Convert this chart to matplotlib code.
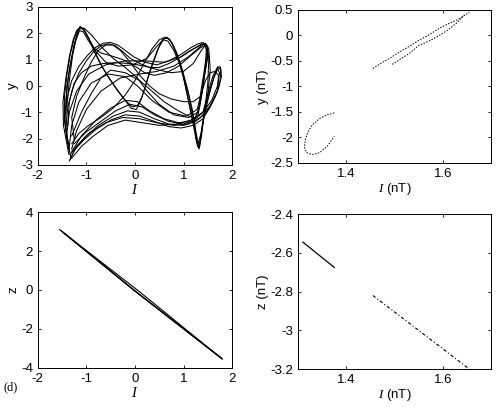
import numpy as np
import matplotlib
matplotlib.use("Agg")
import matplotlib.pyplot as plt

plt.rcParams['font.family'] = ['Liberation Sans', 'DejaVu Sans']
plt.rcParams['mathtext.fontset'] = 'custom'
plt.rcParams['mathtext.it'] = 'Liberation Serif:italic'
plt.rcParams['mathtext.rm'] = 'Liberation Sans'

# ---- top left: attractor I-y, hand traced orbits (I, y) ----
orbit_a = [(-1.32, -2.7), (-1.4, -2.0), (-1.45, -1.2), (-1.45, -0.4), (-1.4, 0.4), (-1.33, 1.2), (-1.25, 1.8),
           (-1.17, 2.15), (-1.1, 2.2), (-1.02, 2.05), (-0.92, 1.7), (-0.8, 1.2), (-0.65, 0.65), (-0.5, 0.2),
           (-0.35, -0.2), (-0.2, -0.55), (-0.05, -0.8), (0.05, -0.75), (0.15, -0.4), (0.25, 0.2), (0.38, 0.9),
           (0.5, 1.5), (0.6, 1.8), (0.7, 1.8), (0.8, 1.5), (0.92, 0.9), (1.03, 0.1), (1.13, -0.8), (1.22, -1.6),
           (1.29, -2.3), (1.33, -2.3), (1.38, -1.6), (1.45, -0.8), (1.55, -0.1), (1.65, 0.45), (1.72, 0.7),
           (1.77, 0.6), (1.75, 0.2), (1.68, -0.3), (1.55, -0.8), (1.4, -1.25), (1.2, -1.5), (0.95, -1.6),
           (0.7, -1.55), (0.4, -1.35), (0.1, -1.15), (-0.2, -1.1), (-0.5, -1.3), (-0.8, -1.65), (-1.05, -2.05),
           (-1.25, -2.45), (-1.33, -2.8)]
orbit_b = [(-1.35, -2.4), (-1.42, -1.6), (-1.38, -0.8), (-1.28, -0.1), (-1.15, 0.5), (-1.0, 0.95), (-0.85, 1.3),
           (-0.7, 1.52), (-0.55, 1.6), (-0.4, 1.52), (-0.25, 1.3), (-0.1, 1.05), (0.1, 0.85), (0.3, 0.7),
           (0.5, 0.7), (0.7, 0.85), (0.9, 1.05), (1.1, 1.3), (1.3, 1.5), (1.42, 1.6), (1.5, 1.5), (1.5, 1.1),
           (1.43, 0.4), (1.37, -0.4), (1.3, -1.1), (1.15, -1.35), (0.9, -1.4), (0.6, -1.25), (0.3, -0.95),
           (0.05, -0.6), (-0.2, -0.55), (-0.5, -0.85), (-0.8, -1.3), (-1.1, -1.9), (-1.3, -2.5)]
orbit_c = [(-1.38, -1.5), (-1.35, -0.6), (-1.25, 0.1), (-1.1, 0.5), (-0.9, 0.75), (-0.65, 0.85), (-0.4, 0.88),
           (-0.1, 0.85), (0.2, 0.75), (0.5, 0.6), (0.75, 0.5), (1.0, 0.55), (1.2, 0.85), (1.35, 1.3),
           (1.45, 1.55), (1.48, 1.3), (1.42, 0.5), (1.35, -0.3), (1.3, -1.0), (1.1, -1.2), (0.8, -1.1),
           (0.5, -0.7), (0.25, -0.2), (0.05, 0.3), (-0.2, 0.7), (-0.45, 1.05), (-0.7, 1.5), (-0.9, 1.95),
           (-1.05, 2.2), (-1.15, 2.15), (-1.25, 1.6), (-1.35, 0.6), (-1.42, -0.5), (-1.42, -1.6), (-1.35, -2.5)]
orbit_d = [(-1.3, -2.2), (-1.15, -1.8), (-0.95, -1.5), (-0.7, -1.2), (-0.45, -0.85), (-0.2, -0.35), (0.0, 0.2),
           (0.2, 0.9), (0.35, 1.4), (0.5, 1.75), (0.62, 1.85), (0.72, 1.75), (0.85, 1.3), (0.98, 0.6),
           (1.1, -0.3), (1.2, -1.2), (1.27, -2.0), (1.31, -2.35), (1.35, -2.0), (1.42, -1.2), (1.52, -0.4),
           (1.62, 0.3), (1.7, 0.65), (1.74, 0.5), (1.7, 0.0), (1.58, -0.55), (1.4, -1.0), (1.15, -1.3),
           (0.85, -1.45), (0.5, -1.5), (0.15, -1.4), (-0.2, -1.3), (-0.55, -1.5), (-0.85, -1.9), (-1.1, -2.3),
           (-1.3, -2.75)]
orbit_e = [(-1.4, -0.8), (-1.35, 0.2), (-1.28, 1.2), (-1.2, 1.9), (-1.13, 2.25), (-1.05, 2.15), (-0.95, 1.8),
           (-0.8, 1.3), (-0.6, 0.9), (-0.35, 0.75), (-0.05, 0.8), (0.25, 1.05), (0.45, 1.5), (0.58, 1.75),
           (0.68, 1.7), (0.8, 1.35), (0.95, 0.7), (1.08, -0.1), (1.18, -0.9), (1.26, -1.8), (1.3, -2.2),
           (1.36, -1.8), (1.44, -0.9), (1.5, 0.1), (1.52, 1.0), (1.48, 1.55), (1.38, 1.6), (1.2, 1.4),
           (0.95, 1.1), (0.6, 0.9), (0.2, 0.95), (-0.2, 0.95), (-0.6, 0.8), (-0.95, 0.45), (-1.2, -0.2),
           (-1.35, -1.0), (-1.4, -1.8)]
orbit_f = [(-1.25, -2.0), (-1.3, -1.2), (-1.2, -0.4), (-1.05, 0.3), (-0.9, 0.9), (-0.75, 1.35), (-0.6, 1.55),
           (-0.45, 1.55), (-0.3, 1.35), (-0.1, 0.9), (0.1, 0.4), (0.3, 0.0), (0.5, -0.3), (0.75, -0.5),
           (1.0, -0.6), (1.2, -0.6), (1.35, -0.4), (1.45, 0.2), (1.55, 0.5), (1.65, 0.55), (1.72, 0.4),
           (1.7, -0.2), (1.55, -0.75), (1.35, -1.2), (1.1, -1.45), (0.8, -1.5), (0.45, -1.4), (0.1, -1.25),
           (-0.25, -1.2), (-0.6, -1.4), (-0.95, -1.8), (-1.2, -2.3), (-1.35, -2.85)]
orbit_g = [(-1.36, -2.6), (-1.47, -1.5), (-1.48, -0.6), (-1.42, 0.3), (-1.35, 1.1), (-1.27, 1.75), (-1.2, 2.1),
           (-1.12, 2.25), (-1.05, 2.12), (-0.95, 1.8), (-0.85, 1.35), (-0.7, 0.8), (-0.55, 0.35), (-0.38, -0.1),
           (-0.22, -0.5), (-0.08, -0.85), (0.03, -0.9), (0.12, -0.55), (0.22, 0.0), (0.33, 0.7), (0.46, 1.35),
           (0.57, 1.75), (0.66, 1.85), (0.76, 1.65), (0.88, 1.1), (1.0, 0.3), (1.1, -0.55), (1.2, -1.45),
           (1.27, -2.15), (1.32, -2.4), (1.37, -1.9), (1.43, -1.0), (1.5, -0.3), (1.6, 0.35), (1.7, 0.72),
           (1.76, 0.72), (1.78, 0.35), (1.72, -0.1), (1.6, -0.6), (1.45, -1.05), (1.25, -1.35), (1.0, -1.5),
           (0.7, -1.45), (0.4, -1.25), (0.1, -1.0), (-0.15, -0.95), (-0.45, -1.15), (-0.75, -1.5), (-1.0, -1.9),
           (-1.2, -2.3), (-1.33, -2.6)]
orbit_h = [(-1.38, -2.2), (-1.45, -1.3), (-1.4, -0.5), (-1.3, 0.2), (-1.15, 0.75), (-0.98, 1.15), (-0.82, 1.45),
           (-0.65, 1.62), (-0.5, 1.65), (-0.35, 1.55), (-0.2, 1.35), (-0.02, 1.1), (0.2, 0.9), (0.45, 0.8),
           (0.7, 0.95), (0.95, 1.2), (1.15, 1.45), (1.3, 1.6), (1.4, 1.65), (1.47, 1.5), (1.46, 0.9), (1.4, 0.0),
           (1.33, -0.8), (1.22, -1.3), (1.0, -1.45), (0.7, -1.35), (0.4, -1.1), (0.15, -0.8), (-0.1, -0.7),
           (-0.4, -0.95), (-0.7, -1.35), (-1.0, -1.75), (-1.25, -2.2)]
orbit_i = [(-1.3, -1.9), (-1.1, -1.0), (-0.9, -0.3), (-0.7, 0.3), (-0.5, 0.6), (-0.2, 0.5), (0.1, 0.2),
           (0.35, -0.2), (0.6, -0.6), (0.85, -0.9), (1.05, -1.1), (1.25, -1.25), (1.4, -1.0), (1.5, -0.3),
           (1.55, 0.6), (1.52, 1.4), (1.45, 1.62), (1.35, 1.5), (1.1, 1.1), (0.8, 0.75), (0.45, 0.55),
           (0.1, 0.45), (-0.3, 0.3), (-0.7, -0.2), (-1.0, -0.9), (-1.2, -1.7), (-1.3, -2.4)]
orbit_j = [(-1.42, -1.0), (-1.4, 0.0), (-1.32, 0.9), (-1.22, 1.7), (-1.14, 2.1), (-1.06, 2.05), (-0.97, 1.75),
           (-0.85, 1.45), (-0.7, 1.25), (-0.5, 1.15), (-0.25, 1.0), (0.0, 0.75), (0.2, 0.5), (0.4, 0.4),
           (0.65, 0.5), (0.9, 0.75), (1.15, 1.15), (1.35, 1.45), (1.45, 1.55), (1.5, 1.25), (1.45, 0.6),
           (1.38, -0.2), (1.28, -0.9), (1.05, -1.15), (0.7, -1.0), (0.35, -0.55), (0.05, 0.0), (-0.2, 0.35),
           (-0.55, 0.45), (-0.9, 0.1), (-1.15, -0.6), (-1.3, -1.5), (-1.35, -2.3)]
orbits = [orbit_a, orbit_b, orbit_c, orbit_d, orbit_e, orbit_f, orbit_g, orbit_h, orbit_i, orbit_j]

# ---- top right: section I-y (nT) ----
sec_up_I = [1.455, 1.47, 1.49, 1.51, 1.53, 1.55, 1.57, 1.59, 1.61, 1.63, 1.655]
sec_up_y = [-0.65, -0.56, -0.45, -0.33, -0.22, -0.1, 0.0, 0.12, 0.22, 0.3, 0.45]
sec_lo_I = [1.495, 1.51, 1.53, 1.55, 1.57, 1.59, 1.61, 1.63, 1.645]
sec_lo_y = [-0.57, -0.48, -0.36, -0.2, -0.12, -0.02, 0.1, 0.25, 0.4]
hook_I = [1.375, 1.36, 1.345, 1.33, 1.32, 1.315, 1.313, 1.318, 1.33, 1.345, 1.36, 1.375]
hook_y = [-1.52, -1.56, -1.63, -1.75, -1.9, -2.05, -2.2, -2.3, -2.34, -2.3, -2.18, -1.98]

# ---- bottom left: I-z ----
strand_I = [[-1.55, 0.0, 1.8], [-1.5, 0.05, 1.78], [-1.45, 0.1, 1.75], [-1.52, -0.05, 1.79]]
strand_z = [[3.1, -0.05, -3.55], [3.0, -0.15, -3.5], [2.9, -0.1, -3.45], [3.05, 0.05, -3.52]]

# ---- bottom right: section I-z (nT) ----
zsec1_I = [1.31, 1.33, 1.35, 1.375]
zsec1_z = [-2.545, -2.585, -2.625, -2.675]
zsec2_I = [1.455, 1.5, 1.55, 1.6, 1.655]
zsec2_z = [-2.82, -2.905, -3.0, -3.095, -3.2]

FS = 9.5

fig = plt.figure(figsize=(4.96, 4.07), dpi=100)
ax1 = fig.add_axes([0.076, 0.595, 0.392, 0.388])
ax2 = fig.add_axes([0.601, 0.600, 0.389, 0.376])
ax3 = fig.add_axes([0.076, 0.096, 0.392, 0.383])
ax4 = fig.add_axes([0.601, 0.093, 0.389, 0.381])

for orb in orbits:
    I, y = zip(*orb)
    ax1.plot(I, y, color='black', lw=0.75)
ax1.set_xlim(-2, 2)
ax1.set_ylim(-3, 3)
ax1.set_xticks([-2, -1, 0, 1, 2])
ax1.set_xticklabels(['-2', '-1', '0', '1', '2'])
ax1.set_yticks([-3, -2, -1, 0, 1, 2, 3])
ax1.set_yticklabels(['-3', '-2', '-1', '0', '1', '2', '3'])
ax1.set_xlabel('$I$', fontsize=FS + 1, labelpad=1)
ax1.set_ylabel('y', fontsize=FS, labelpad=1)

for I, y in [(sec_up_I, sec_up_y), (sec_lo_I, sec_lo_y), (hook_I, hook_y)]:
    ax2.plot(I, y, color='black', lw=0.7, linestyle=(0, (1.5, 1.5)))
ax2.set_xlim(1.3, 1.7)
ax2.set_ylim(-2.5, 0.5)
ax2.set_xticks([1.4, 1.6])
ax2.set_yticks([-2.5, -2, -1.5, -1, -0.5, 0, 0.5])
ax2.set_yticklabels(['-2.5', '-2', '-1.5', '-1', '-0.5', '0', '0.5'])
ax2.set_xlabel('$I$ (nT)', fontsize=FS, labelpad=1)
ax2.set_ylabel('y (nT)', fontsize=FS, labelpad=1)

for I, z in zip(strand_I, strand_z):
    ax3.plot(I, z, color='black', lw=0.8)
ax3.set_xlim(-2, 2)
ax3.set_ylim(-4, 4)
ax3.set_xticks([-2, -1, 0, 1, 2])
ax3.set_xticklabels(['-2', '-1', '0', '1', '2'])
ax3.set_yticks([-4, -2, 0, 2, 4])
ax3.set_yticklabels(['-4', '-2', '0', '2', '4'])
ax3.set_xlabel('$I$', fontsize=FS + 1, labelpad=1)
ax3.set_ylabel('z', fontsize=FS, labelpad=1)

ax4.plot(zsec1_I, zsec1_z, color='black', lw=0.9)
ax4.plot(zsec2_I, zsec2_z, color='black', lw=0.8, linestyle=(0, (3, 2, 1, 2)))
ax4.set_xlim(1.3, 1.7)
ax4.set_ylim(-3.2, -2.4)
ax4.set_xticks([1.4, 1.6])
ax4.set_yticks([-3.2, -3.0, -2.8, -2.6, -2.4])
ax4.set_yticklabels(['-3.2', '-3', '-2.8', '-2.6', '-2.4'])
ax4.set_xlabel('$I$ (nT)', fontsize=FS, labelpad=1)
ax4.set_ylabel('z (nT)', fontsize=FS, labelpad=1)

for ax in [ax1, ax2, ax3, ax4]:
    ax.tick_params(direction='in', top=True, right=True, length=2.5, width=0.6,
                   labelsize=FS, pad=3.5)
    for s in ax.spines.values():
        s.set_linewidth(0.7)

fig.text(0.008, 0.042, '(d)', fontsize=9, family='Liberation Serif')

fig.savefig('out.png', dpi=100)
